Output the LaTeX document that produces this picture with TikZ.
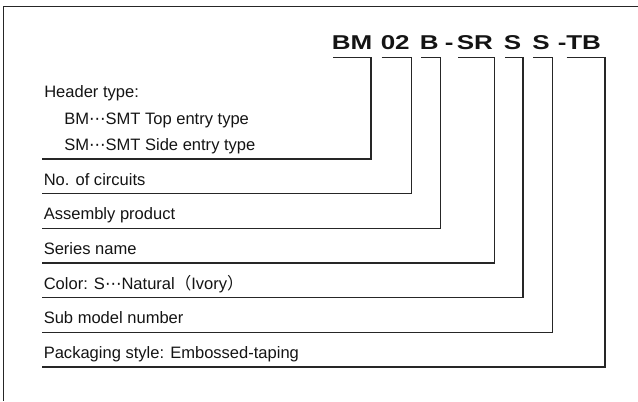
\documentclass[tikz,border=0pt]{standalone}
\usepackage{fontspec}
\setmainfont{Liberation Sans}
\newfontfamily\jfont{Noto Sans CJK JP}
\newfontfamily\dfont{DejaVu Sans}
\newfontfamily\hfont[FakeStretch=1.3]{Liberation Sans}
\newcommand{\mdots}{{\dfont ⋯}}
\begin{document}
\begin{tikzpicture}[x=0.75pt,y=-0.75pt]
\tikzset{
  ln/.style={draw=black!85, line width=0.8pt},
  frame/.style={draw=black!85, line width=0.9pt},
  lbl/.style={anchor=base west, inner sep=0pt, text=black!92,
    font=\fontsize{12.4}{14}\selectfont},
  code/.style={anchor=base west, inner sep=0pt, text=black!92,
    font=\hfont\bfseries\fontsize{15}{18}\selectfont},
}
\useasboundingbox (0,0) rectangle (638,401);
% outer frame (left and top edges)
\coordinate (fa) at (638,6.5);
\coordinate (fb) at (3.5,6.5);
\coordinate (fc) at (3.5,401);
\draw[frame] (fa) -- (fb) -- (fc);

% code pieces
\node[code] (c1) at (331.5,49.3) {BM};
\node[code] (c2) at (380.5,49.3) {02};
\node[code] (c3) at (419.5,49.3) {B};
\node[code] (d1) at (444.5,49.3) {-};
\node[code] (c4) at (456.5,49.3) {SR};
\node[code] (c5) at (503.5,49.3) {S};
\node[code] (c6) at (532,49.3) {S};
\node[code] (d2) at (557.5,49.3) {-};
\node[code] (c7) at (566,49.3) {TB};

% labels
\node[lbl] (l0) at (44,97.5) {Header type:};
\node[lbl] (l0a) at (64,124) {BM\mdots SMT Top entry type};
\node[lbl] (l0b) at (64,150.5) {SM\mdots SMT Side entry type};
\node[lbl] (l1) at (43.5,185.2) {No. of circuits};
\node[lbl] (l2) at (43.5,219.8) {Assembly product};
\node[lbl] (l3) at (43.5,254.5) {Series name};
\node[lbl] (l4) at (43.5,289.2) {Color: S\mdots Natural{\jfont （}Ivory{\jfont ）}};
\node[lbl] (l5) at (43.5,323.8) {Sub model number};
\node[lbl] (l6) at (43.5,358.5) {Packaging style: Embossed-taping};

% bracket anchor points
\coordinate (t1) at (333,57.7);   \coordinate (b1) at (371,159);    \coordinate (e1) at (42,159);
\coordinate (t2) at (381.7,57.7); \coordinate (b2) at (411.7,193.7);\coordinate (e2) at (42,193.7);
\coordinate (t3) at (421,57.7);   \coordinate (b3) at (440.5,228.3);\coordinate (e3) at (42,228.3);
\coordinate (t4) at (458,57.7);   \coordinate (b4) at (494.3,263);  \coordinate (e4) at (42,263);
\coordinate (t5) at (505,57.7);   \coordinate (b5) at (523,297.7);  \coordinate (e5) at (42,297.7);
\coordinate (t6) at (533.3,57.7); \coordinate (b6) at (552.5,332.3);\coordinate (e6) at (42,332.3);
\coordinate (t7) at (566.7,57.7); \coordinate (b7) at (605,367);    \coordinate (e7) at (42,367);

\foreach \i in {1,...,7}{
  \draw[ln] (t\i) -| (b\i) -- (e\i);
}
\end{tikzpicture}
\end{document}
